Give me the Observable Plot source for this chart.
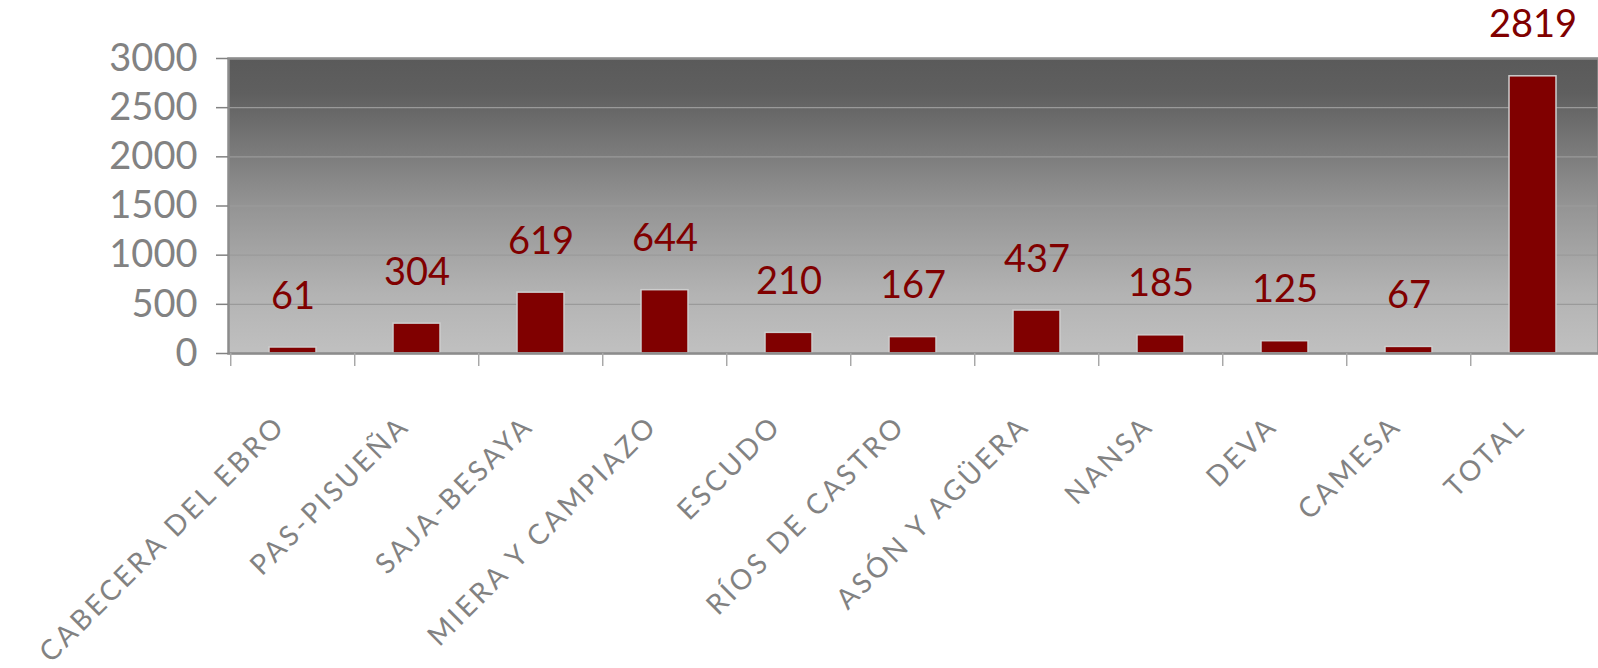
<!DOCTYPE html>
<html>
<head>
<meta charset="utf-8">
<script src="https://cdn.jsdelivr.net/npm/d3@7"></script>
<script src="https://cdn.jsdelivr.net/npm/@observablehq/plot@0.6"></script>
<style>
  html, body { margin: 0; padding: 0; background: #ffffff; }
  #chart svg { display: block; }
</style>
</head>
<body>
<div id="chart"></div>
<script>
const categories = [
  "CABECERA DEL EBRO", "PAS-PISUEÑA", "SAJA-BESAYA", "MIERA Y CAMPIAZO",
  "ESCUDO", "RÍOS DE CASTRO", "ASÓN Y AGÜERA", "NANSA", "DEVA", "CAMESA", "TOTAL"
];
const values = [61, 304, 619, 644, 210, 167, 437, 185, 125, 67, 2819];
const yTicks = [0, 500, 1000, 1500, 2000, 2500, 3000];

const data = categories.map((c, i) => ({cat: c, value: values[i]}));

const W = 1598, H = 668, ML = 228, MR = 0, MT = 58, MB = 315;
const step = (W - ML - MR) / categories.length;
const FONT = "Lato, 'Open Sans', sans-serif";

// background gradient panel
function gradientPanel(index, scales, values, dims) {
  const g = d3.create("svg:g");
  const grad = g.append("defs").append("linearGradient")
    .attr("id", "bgGrad").attr("x1", 0).attr("y1", 0).attr("x2", 0).attr("y2", 1);
  [[0, "#5a5a5a"], [0.12, "#5f5f5f"], [0.5, "#949494"], [0.8, "#b3b3b3"], [1, "#c0c0c0"]]
    .forEach(([o, c]) => grad.append("stop").attr("offset", o).attr("stop-color", c));
  g.append("rect")
    .attr("x", dims.marginLeft).attr("y", dims.marginTop)
    .attr("width", dims.width - dims.marginLeft - dims.marginRight)
    .attr("height", dims.height - dims.marginTop - dims.marginBottom)
    .attr("fill", "url(#bgGrad)");
  return g.node();
}

const chart = Plot.plot({
  width: W, height: H,
  marginLeft: ML, marginRight: MR, marginTop: MT, marginBottom: MB,
  style: {fontFamily: FONT, background: "#ffffff", overflow: "visible"},
  x: {domain: categories, paddingInner: 0.62, paddingOuter: 0.31, axis: null, label: null},
  y: {domain: [0, 3000], axis: null, label: null},
  marks: [
    gradientPanel,
    Plot.gridY(yTicks, {stroke: "#9a9a9a", strokeOpacity: 1, strokeWidth: 1.3}),
    Plot.barY(data, {x: "cat", y: "value", fill: "#800000", stroke: "#cdcdcd", strokeWidth: 1.5}),
    Plot.frame({stroke: "#8c8c8c", strokeWidth: 2.5}),
    Plot.axisY({ticks: yTicks, tickFormat: d => String(d), label: null, tickSize: 12, tickPadding: 19, fontSize: 38, color: "#828282", strokeWidth: 1.5, fontFamily: FONT}),
    Plot.axisX({tickSize: 13, tickFormat: () => "", label: null, dx: -step / 2, stroke: "#a8a8a8", strokeWidth: 1.5}),
    Plot.text(data, {x: "cat", y: "value", text: d => String(d.value), dy: -51, fill: "#800000", fontSize: 38, fontFamily: FONT, lineAnchor: "middle"}),
    Plot.text(categories, {x: d => d, frameAnchor: "bottom", rotate: -45, textAnchor: "end", lineAnchor: "top", dx: -20, dy: 60, fontSize: 28, fill: "#828282", fontFamily: FONT})
  ]
});

// widen category labels to mimic the original geometric typeface
d3.select(chart).selectAll("text")
  .filter(function() { return categories.includes(this.textContent); })
  .style("letter-spacing", "3.1px");

document.getElementById("chart").appendChild(chart);
</script>
</body>
</html>
